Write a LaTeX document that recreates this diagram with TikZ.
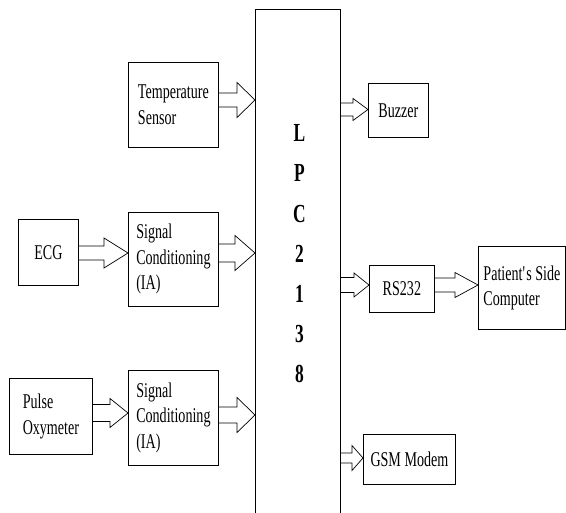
\documentclass[tikz,border=0pt]{standalone}
\usepackage{fontspec}
\setmainfont{Liberation Serif}[FakeStretch=0.67]
\usetikzlibrary{calc}
\tikzset{
  box/.style={draw, line width=0.8pt, inner sep=0pt, anchor=north west, align=left,
    font=\fontsize{21}{25.5}\selectfont},
  arr/.style={draw, line width=0.7pt, line join=miter}
}
\newcommand\blockarrow[6]{%
  \draw[arr] let \p1=(#1.east), \p2=(#2.west), \p3=(0,#3) in
    (\x1,\y3+#4pt) -- (\x2-#6pt,\y3+#4pt) -- (\x2-#6pt,\y3+#5pt) -- (\x2,\y3)
    -- (\x2-#6pt,\y3-#5pt) -- (\x2-#6pt,\y3-#4pt) -- (\x1,\y3-#4pt);}
\begin{document}
\begin{tikzpicture}[x=1pt,y=-1pt]
\useasboundingbox (0,0) rectangle (566,513);
\begin{scope}
\clip (0,0) rectangle (566,513);
\node[box, minimum width=85pt, minimum height=530pt] (lpc) at (255,9) {};
\end{scope}
\node[font=\fontsize{26}{40.2}\selectfont\bfseries, align=center, inner sep=0pt] (lpctext) at (299.5,254) {L\\P\\C\\2\\1\\3\\8};

\node[box, minimum width=90pt, minimum height=85pt] (temp) at (128,62) {Temperature\\Sensor};
\node[box, minimum width=60pt, minimum height=66pt] (ecg) at (18,219) {ECG};
\node[box, minimum width=90pt, minimum height=94pt] (sc1) at (128,212) {Signal\\Conditioning\\(IA)};
\node[box, minimum width=83pt, minimum height=76pt] (pulse) at (9,378) {Pulse\\Oxymeter};
\node[box, minimum width=90pt, minimum height=95pt] (sc2) at (128,370) {Signal\\Conditioning\\(IA)};
\node[box, minimum width=60pt, minimum height=54pt] (buzzer) at (368,83) {Buzzer};
\node[box, minimum width=65pt, minimum height=47pt] (rs) at (369,265) {RS232};
\node[box, minimum width=87pt, minimum height=83pt] (pc) at (478,246) {Patient\textquotesingle s Side\\Computer};
\node[box, minimum width=92pt, minimum height=50pt] (gsm) at (363,434) {GSM Modem};

\blockarrow{temp}{lpc}{100}{7}{17.5}{18}
\blockarrow{ecg}{sc1}{253}{7}{15}{24}
\blockarrow{sc1}{lpc}{253}{9}{17.5}{20}
\blockarrow{pulse}{sc2}{413}{8.5}{14.5}{18}
\blockarrow{sc2}{lpc}{415}{8}{17.5}{18}
\blockarrow{lpc}{buzzer}{109.5}{6.5}{11}{15}
\blockarrow{lpc}{rs}{285}{7.5}{12}{15}
\blockarrow{rs}{pc}{285}{7}{12.5}{23}
\blockarrow{lpc}{gsm}{458}{5}{12.5}{11}
\end{tikzpicture}
\end{document}
